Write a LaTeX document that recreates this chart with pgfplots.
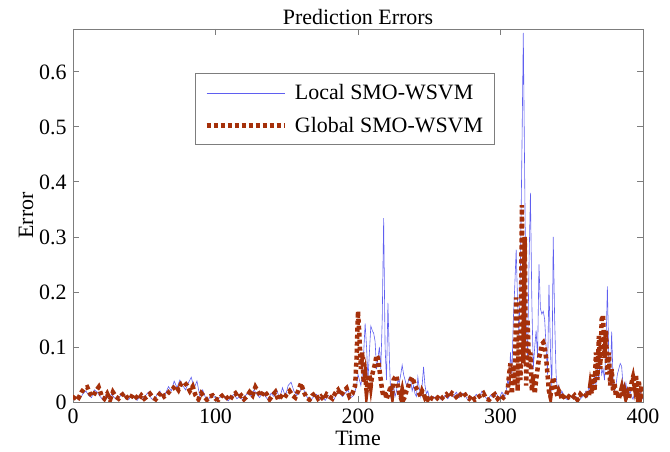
\documentclass[border=0pt]{standalone}
\usepackage{fontspec}
\setmainfont{Liberation Serif}
\usepackage{pgfplots}
\pgfplotsset{compat=1.18}
\definecolor{locblue}{RGB}{95,95,240}
\definecolor{globred}{RGB}{165,48,10}
\definecolor{axgray}{RGB}{125,125,125}

\begin{document}
\begin{tikzpicture}
\useasboundingbox (0,0) rectangle (670bp,452bp);
\begin{axis}[
    at={(73bp,50bp)}, anchor=south west,
    width=570bp, height=373bp, scale only axis,
    xmin=0, xmax=400, ymin=0, ymax=0.678,
    xtick={0,100,200,300,400},
    ytick={0,0.1,0.2,0.3,0.4,0.5,0.6},
    yticklabels={0,0.1,0.2,0.3,0.4,0.5,0.6},
    tick align=inside, major tick length=6bp,
    axis line style={axgray, line width=0.9bp},
    every tick/.style={axgray, line width=0.9bp},
    font=\fontsize{22}{26}\selectfont,
    /pgf/number format/assume math mode=true,
    xticklabel style={yshift=-3bp},
    yticklabel style={xshift=-3bp},
    title={Prediction Errors},
    title style={yshift=-5bp},
    xlabel={Time}, ylabel={Error},
    xlabel style={yshift=-1bp},
    ylabel style={yshift=-1bp},
    legend cell align=left,
    legend style={at={(rel axis cs:0.214,0.882)}, anchor=north west,
        draw=axgray, line width=0.9bp, fill=white,
        inner xsep=9bp, inner ysep=9bp, row sep=12bp, column sep=6bp,
        font=\fontsize{22}{26}\selectfont},
    legend image code/.code={\draw[#1] (0bp,0bp) -- (78bp,0bp);},
]
\addplot[locblue, line width=0.6bp] coordinates {
(1,0.004)(3,0.010)(5,0.006)(7,0.015)(9,0.020)(11,0.012)(13,0.008)(15,0.022)(17,0.018)(19,0.010)
(21,0.004)(23,0.012)(25,0.006)(27,0.014)(29,0.008)(31,0.004)(33,0.010)(35,0.018)(37,0.006)(39,0.004)
(41,0.012)(43,0.008)(45,0.003)(47,0.010)(49,0.005)(51,0.012)(53,0.018)(55,0.006)(57,0.004)(59,0.014)
(61,0.020)(63,0.008)(65,0.016)(67,0.028)(69,0.020)(71,0.038)(73,0.026)(75,0.040)(77,0.030)(79,0.022)
(81,0.035)(83,0.045)(85,0.025)(87,0.038)(89,0.010)(91,0.022)(93,0.008)(95,0.004)(97,0.014)(99,0.010)
(101,0.004)(103,0.008)(105,0.012)(107,0.006)(109,0.002)(111,0.010)(113,0.014)(115,0.006)(117,0.010)(119,0.004)
(121,0.012)(123,0.016)(125,0.010)(127,0.022)(129,0.014)(131,0.008)(133,0.018)(135,0.010)(137,0.004)(139,0.016)
(141,0.010)(143,0.022)(145,0.006)(147,0.026)(149,0.010)(151,0.030)(153,0.036)(155,0.020)(157,0.012)(159,0.018)
(161,0.030)(163,0.014)(165,0.006)(167,0.004)(169,0.010)(171,0.014)(173,0.004)(175,0.008)(177,0.003)(179,0.012)
(181,0.008)(183,0.004)(185,0.014)(187,0.018)(189,0.010)(191,0.016)(193,0.022)(195,0.008)(197,0.012)
(198,0.02)(199,0.03)(200,0.05)(201,0.04)(202,0.03)(203,0.05)(204,0.09)(205,0.143)(206,0.10)(207,0.04)
(208,0.09)(209,0.138)(210,0.13)(211,0.125)(212,0.11)(213,0.06)(214,0.08)(215,0.10)(216,0.06)(217,0.15)
(218,0.334)(219,0.10)(220,0.04)(221,0.18)(222,0.08)(223,0.01)(224,0.02)(225,0.03)(226,0.01)(227,0.02)
(228,0.04)(229,0.035)(230,0.05)(231,0.067)(232,0.05)(233,0.04)(234,0.03)(235,0.035)(236,0.045)(237,0.04)
(238,0.02)(239,0.03)(240,0.015)(241,0.01)(242,0.045)(243,0.025)(244,0.01)(245,0.03)(246,0.064)(247,0.03)
(248,0.015)(249,0.02)(250,0.008)
(251,0.006)(253,0.010)(255,0.004)(257,0.008)(259,0.003)(261,0.012)(263,0.006)(265,0.014)(267,0.010)(269,0.018)
(271,0.008)(273,0.016)(275,0.012)(277,0.004)(279,0.010)(281,0.006)(283,0.014)(285,0.008)(287,0.020)(289,0.010)
(291,0.004)(293,0.012)(295,0.008)(297,0.016)(299,0.006)(301,0.018)(303,0.010)
(304,0.02)(305,0.04)(306,0.03)(307,0.09)(308,0.05)(309,0.15)(310,0.21)(311,0.277)(312,0.18)(313,0.12)
(314,0.25)(315,0.45)(316,0.671)(317,0.40)(318,0.15)(319,0.08)(320,0.25)(321,0.38)(322,0.18)(323,0.06)
(324,0.10)(325,0.13)(326,0.08)(327,0.25)(328,0.17)(329,0.16)(330,0.165)(331,0.15)(332,0.10)(333,0.05)
(334,0.213)(335,0.10)(336,0.02)(337,0.30)(338,0.15)(339,0.05)(340,0.02)(341,0.03)(342,0.01)(343,0.02)
(344,0.015)(345,0.008)
(347,0.004)(349,0.012)(351,0.006)(353,0.010)(355,0.003)(357,0.008)(359,0.014)
(360,0.02)(361,0.01)(362,0.03)(363,0.02)(364,0.04)(365,0.03)(366,0.05)(367,0.03)(368,0.06)(369,0.04)
(370,0.08)(371,0.05)(372,0.06)(373,0.04)(374,0.10)(375,0.21)(376,0.08)(377,0.03)(378,0.128)(379,0.04)
(380,0.02)(381,0.03)(382,0.05)(383,0.06)(384,0.07)(385,0.065)(386,0.03)(387,0.02)(388,0.035)(389,0.01)
(390,0.015)(391,0.02)(392,0.01)(393,0.005)(394,0.015)(395,0.02)(396,0.01)(397,0.005)(398,0.02)(399,0.01)
(400,0.005)
};
\addlegendentry{Local SMO-WSVM}
\addplot[globred, line width=4.5bp, dash pattern=on 4bp off 3bp] coordinates {
(0,0.005)(2,0.012)(4,0.008)(6,0.018)(8,0.025)(10,0.027)(12,0.015)(14,0.010)(16,0.020)(18,0.027)
(20,0.012)(22,0.006)(24,0.015)(26,0.004)(28,0.018)(30,0.010)(32,0.006)(34,0.012)(36,0.016)(38,0.008)
(40,0.005)(42,0.014)(44,0.010)(46,0.004)(48,0.012)(50,0.006)(52,0.010)(54,0.015)(56,0.008)(58,0.005)
(60,0.012)(62,0.018)(64,0.010)(66,0.014)(68,0.020)(70,0.024)(72,0.030)(74,0.022)(76,0.034)(78,0.036)
(80,0.030)(82,0.020)(84,0.028)(86,0.012)(88,0.005)(90,0.016)(92,0.010)(94,0.004)(96,0.010)(98,0.012)
(100,0.006)(102,0.004)(104,0.010)(106,0.014)(108,0.008)(110,0.003)(112,0.012)(114,0.016)(116,0.008)(118,0.012)
(120,0.005)(122,0.010)(124,0.018)(126,0.012)(128,0.027)(130,0.018)(132,0.010)(134,0.020)(136,0.014)(138,0.005)
(140,0.012)(142,0.018)(144,0.004)(146,0.010)(148,0.006)(150,0.014)(152,0.020)(154,0.012)(156,0.008)(158,0.020)
(160,0.034)(162,0.018)(164,0.008)(166,0.004)(168,0.012)(170,0.016)(172,0.006)(174,0.010)(176,0.004)(178,0.014)
(180,0.010)(182,0.006)(184,0.016)(186,0.022)(188,0.012)(190,0.020)(192,0.025)(194,0.010)(196,0.015)(198,0.030)
(199,0.08)(200,0.165)(201,0.12)(202,0.06)(203,0.09)(204,0.035)(205,0.05)(206,0.02)(207,0.04)(208,0.05)
(209,0.03)(210,0.05)(211,0.06)(212,0.07)(213,0.085)(214,0.08)(215,0.06)(216,0.04)(217,0.02)(218,0.01)
(219,0.02)(220,0.005)(221,0.012)(222,0.02)(223,0.03)(224,0.015)(225,0.04)(226,0.045)(227,0.048)(228,0.03)
(229,0.015)(230,0.008)(231,0.02)(232,0.005)(233,0.01)(234,0.02)(235,0.025)(236,0.035)(237,0.04)(238,0.045)
(239,0.038)(240,0.03)(241,0.025)(242,0.02)(243,0.015)(244,0.01)(245,0.02)(246,0.015)(247,0.008)(248,0.012)
(249,0.005)(250,0.01)
(252,0.006)(254,0.003)(256,0.008)(258,0.004)(260,0.010)(262,0.014)(264,0.008)(266,0.016)(268,0.012)(270,0.006)
(272,0.014)(274,0.018)(276,0.010)(278,0.006)(280,0.012)(282,0.004)(284,0.008)(286,0.012)(288,0.016)(290,0.006)
(292,0.004)(294,0.010)(296,0.014)(298,0.006)(300,0.012)(302,0.008)(304,0.014)
(305,0.02)(306,0.05)(307,0.07)(308,0.015)(309,0.06)(310,0.03)(311,0.19)(312,0.02)(313,0.13)(314,0.04)
(315,0.358)(316,0.07)(317,0.30)(318,0.03)(319,0.15)(320,0.06)(321,0.09)(322,0.02)(323,0.05)(324,0.015)
(325,0.04)(326,0.06)(327,0.08)(328,0.09)(329,0.105)(330,0.108)(331,0.10)(332,0.08)(333,0.05)(334,0.02)
(335,0.01)(336,0.03)(337,0.045)(338,0.03)(339,0.02)(340,0.01)(341,0.02)(342,0.015)(343,0.005)(344,0.01)
(345,0.008)
(346,0.004)(348,0.010)(350,0.006)(352,0.012)(354,0.004)(356,0.014)(358,0.008)(360,0.012)
(361,0.02)(362,0.01)(363,0.03)(364,0.015)(365,0.05)(366,0.02)(367,0.09)(368,0.04)(369,0.12)(370,0.06)
(371,0.15)(372,0.158)(373,0.08)(374,0.13)(375,0.05)(376,0.09)(377,0.03)(378,0.06)(379,0.02)(380,0.035)
(381,0.01)(382,0.02)(383,0.005)(384,0.015)(385,0.025)(386,0.01)(387,0.02)(388,0.008)(389,0.015)(390,0.005)
(391,0.02)(392,0.035)(393,0.045)(394,0.03)(395,0.05)(396,0.02)(397,0.04)(398,0.01)(399,0.03)(400,0.005)
};
\addlegendentry{Global SMO-WSVM}
\end{axis}
\end{tikzpicture}
\end{document}
